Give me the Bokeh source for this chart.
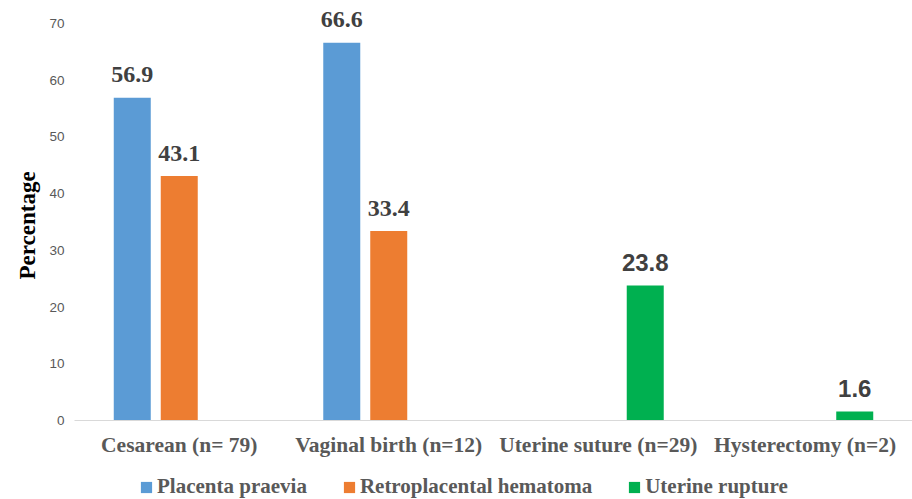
from bokeh.plotting import figure
from bokeh.layouts import column
from bokeh.models import (ColumnDataSource, FactorRange, Range1d, FixedTicker,
                          Legend, LegendItem, Title)
from bokeh.transform import dodge
from bokeh.core.properties import value
from bokeh.embed import file_html
from bokeh.resources import INLINE

categories = ["Cesarean (n= 79)", "Vaginal birth (n=12)", "Uterine suture (n=29)", "Hysterectomy  (n=2)"]
series_names = ["Placenta praevia", "Retroplacental hematoma", "Uterine rupture"]
placenta_praevia = [56.9, 66.6, 0, 0]
retroplacental_hematoma = [43.1, 33.4, 0, 0]
uterine_rupture = [0, 0, 23.8, 1.6]
y_ticks = [0, 10, 20, 30, 40, 50, 60, 70]

colors = ["#5B9BD5", "#ED7D31", "#00B050"]
offsets = [-0.2243, 0.0, 0.2243]
label_fonts = ["Liberation Serif", "Liberation Serif", "Liberation Sans"]
label_sizes = ["24px", "24px", "24px"]
series_values = [placenta_praevia, retroplacental_hematoma, uterine_rupture]

p = figure(x_range=FactorRange(*categories, range_padding=0),
           y_range=Range1d(0, 74.06),
           width=912, height=460, output_backend="svg", toolbar_location=None,
           min_border_left=74, min_border_right=0, min_border_top=0,
           min_border_bottom=40)
p.outline_line_color = None
p.xgrid.visible = False
p.ygrid.visible = False

for name, vals, col, off, lf, ls in zip(series_names, series_values,
                                        colors, offsets, label_fonts, label_sizes):
    cats = [c for c, v in zip(categories, vals) if v]
    vs = [v for v in vals if v]
    src = ColumnDataSource(dict(cat=cats, val=vs, txt=[f"{v:.1f}" for v in vs]))
    p.vbar(x=dodge("cat", off, range=p.x_range), top="val", width=0.1766,
           source=src, fill_color=col, line_color=None)
    p.text(x=dodge("cat", off, range=p.x_range), y="val", text="txt", source=src,
           y_offset=-23, text_align="center", text_baseline="alphabetic",
           text_font=value(lf), text_font_style="bold", text_font_size=ls,
           text_color="#404040")

# axes
p.yaxis.ticker = FixedTicker(ticks=y_ticks)
p.yaxis.axis_line_color = None
p.yaxis.major_tick_line_color = None
p.yaxis.minor_tick_line_color = None
p.yaxis.major_label_standoff = 4
p.yaxis.major_label_text_font = "Liberation Sans"
p.yaxis.major_label_text_font_size = "13.5px"
p.yaxis.major_label_text_color = "#595959"

p.xaxis.axis_line_color = "#D9D9D9"
p.xaxis.axis_line_width = 1
p.xaxis.major_tick_line_color = None
p.xaxis.minor_tick_line_color = None
p.xaxis.major_label_standoff = 6
p.xaxis.major_label_text_font = "Liberation Serif"
p.xaxis.major_label_text_font_style = "bold"
p.xaxis.major_label_text_font_size = "21.5px"
p.xaxis.major_label_text_color = "#595959"

ytitle = Title(text="Percentage", align="left", offset=141,
               text_font="Liberation Serif", text_font_style="bold",
               text_font_size="23px", text_color="#000000", standoff=14)
p.add_layout(ytitle, "left")

# legend strip (its zero-width bars draw nothing; only the legend shows)
lg = figure(width=912, height=39, output_backend="svg", toolbar_location=None,
            x_range=FactorRange(*categories, range_padding=0), y_range=Range1d(-2, -1),
            min_border=0)
lg.axis.visible = False
lg.grid.visible = False
lg.outline_line_color = None
legend_renderers = [lg.vbar(x=categories, top=vals, width=0, fill_color=c, line_color=None)
                    for vals, c in zip(series_values, colors)]
legend = Legend(items=[LegendItem(label=n, renderers=[r]) for n, r in zip(series_names, legend_renderers)],
                orientation="horizontal", location=(65, 0),
                glyph_width=14, glyph_height=14, label_standoff=4, spacing=35,
                label_text_font="Liberation Serif", label_text_font_style="bold",
                label_text_font_size="21px", label_text_color="#595959",
                border_line_color=None, background_fill_alpha=0,
                padding=0, margin=0)
lg.add_layout(legend)

layout = column(p, lg, spacing=0)
open("out.html", "w").write(file_html(layout, INLINE))
